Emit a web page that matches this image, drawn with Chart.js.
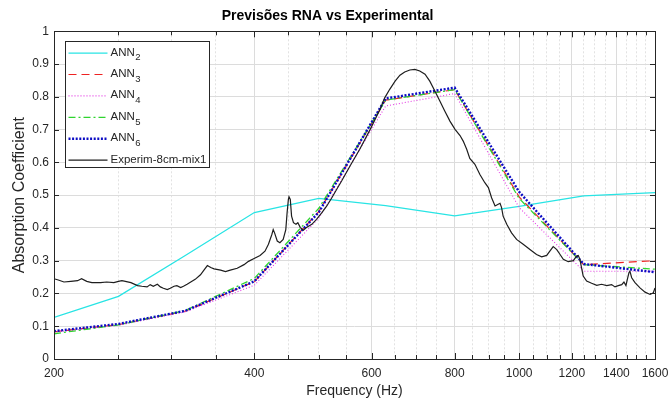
<!DOCTYPE html>
<html><head><meta charset="utf-8">
<script src="https://cdn.jsdelivr.net/npm/chart.js@4/dist/chart.umd.min.js"></script>
<style>html,body{margin:0;padding:0;background:#fff;overflow:hidden}#wrap{width:670px;height:401px}</style>
</head><body><div id="wrap"><canvas id="c" width="670" height="401"></canvas></div>
<script>
// ---- data ----
const bandFreqs = [200, 250, 315, 400, 500, 630, 800, 1000, 1250, 1600];
const ann2 = [0.127, 0.191, 0.316, 0.447, 0.490, 0.468, 0.437, 0.466, 0.498, 0.508];
const ann3 = [0.083, 0.105, 0.146, 0.236, 0.450, 0.790, 0.822, 0.495, 0.288, 0.300];
const ann4 = [0.082, 0.103, 0.144, 0.225, 0.430, 0.772, 0.810, 0.462, 0.268, 0.268];
const ann5 = [0.077, 0.104, 0.148, 0.246, 0.460, 0.790, 0.822, 0.490, 0.288, 0.274];
const ann6 = [0.085, 0.107, 0.147, 0.237, 0.448, 0.795, 0.828, 0.510, 0.290, 0.265];
const expFreqs = [200,203,207,212,217,220,224,228,235,240,246,250,253,256,261,267,271,276,279,282,286,289,292,296,299,303,306,310,313,317,321,326,332,336,340,344,348,356,362,368,377,386,392,399,408,415,420,425,427,429,433,437,442,446,448,450,451,453,455,458,462,465,469,474,479,488,496,505,514,523,532,541,557,576,597,618,628,639,651,662,673,685,697,709,722,734,747,760,773,787,801,815,824,834,843,858,873,888,899,909,920,930,936,941,946,958,974,991,1014,1038,1062,1081,1100,1112,1125,1139,1152,1165,1185,1206,1220,1227,1234,1241,1248,1263,1285,1308,1330,1354,1377,1393,1409,1426,1437,1447,1454,1462,1467,1476,1493,1519,1546,1573,1591,1600];
const expValues = [0.245,0.241,0.235,0.237,0.239,0.245,0.237,0.233,0.233,0.235,0.233,0.237,0.239,0.237,0.233,0.224,0.222,0.220,0.227,0.222,0.228,0.220,0.216,0.212,0.216,0.222,0.224,0.218,0.222,0.228,0.235,0.243,0.257,0.271,0.285,0.279,0.275,0.271,0.267,0.271,0.277,0.288,0.298,0.306,0.316,0.329,0.350,0.380,0.395,0.385,0.360,0.355,0.365,0.395,0.446,0.487,0.495,0.487,0.436,0.416,0.411,0.416,0.401,0.393,0.401,0.411,0.426,0.446,0.467,0.492,0.518,0.543,0.589,0.640,0.700,0.762,0.797,0.823,0.848,0.866,0.876,0.882,0.884,0.879,0.869,0.848,0.818,0.787,0.757,0.726,0.701,0.682,0.665,0.640,0.612,0.594,0.563,0.538,0.523,0.492,0.467,0.472,0.475,0.462,0.436,0.411,0.385,0.365,0.350,0.334,0.319,0.312,0.316,0.329,0.343,0.334,0.319,0.304,0.297,0.300,0.314,0.316,0.304,0.278,0.253,0.238,0.231,0.225,0.228,0.224,0.227,0.220,0.224,0.227,0.235,0.224,0.243,0.263,0.268,0.248,0.233,0.217,0.204,0.197,0.202,0.217];
const xMajorTicks = [200, 400, 600, 800, 1000, 1200, 1400, 1600];
const xMinorTicks = [250, 300, 350, 450, 500, 550, 650, 700, 750, 850, 900, 950, 1050, 1100, 1150, 1250, 1300, 1350, 1450, 1500, 1550];
const yTicks = [0, 0.1, 0.2, 0.3, 0.4, 0.5, 0.6, 0.7, 0.8, 0.9, 1];
const legendBase = ['ANN', 'ANN', 'ANN', 'ANN', 'ANN', 'Experim-8cm-mix1'];
const legendSub = ['2', '3', '4', '5', '6', ''];

// ---- chart ----
const FONT = "'Liberation Sans', Arial, Helvetica, sans-serif";
const allXTicks = xMajorTicks.concat(xMinorTicks).sort((a, b) => a - b);
const pts = (xs, ys) => xs.map((x, i) => ({ x: x, y: ys[i] }));
const isMajor = v => xMajorTicks.indexOf(v) >= 0;

const framePlugin = {
  id: 'frame',
  afterDatasetsDraw(chart) {
    const { ctx, chartArea: a, scales: { x, y } } = chart;
    ctx.save();
    ctx.strokeStyle = '#262626';
    ctx.lineWidth = 1;
    ctx.setLineDash([]);
    ctx.beginPath();
    x.ticks.forEach(t => {
      const px = Math.round(x.getPixelForValue(t.value)) + 0.5;
      const len = isMajor(t.value) ? 6 : 4;
      ctx.moveTo(px, a.bottom); ctx.lineTo(px, a.bottom - len);
      ctx.moveTo(px, a.top); ctx.lineTo(px, a.top + len);
    });
    y.ticks.forEach(t => {
      const py = Math.round(y.getPixelForValue(t.value)) + 0.5;
      ctx.moveTo(a.left, py); ctx.lineTo(a.left + 5, py);
      ctx.moveTo(a.right, py); ctx.lineTo(a.right - 5, py);
    });
    ctx.stroke();
    ctx.strokeRect(Math.round(a.left) + 0.5, Math.round(a.top) + 0.5,
      Math.round(a.right - a.left), Math.round(a.bottom - a.top));
    ctx.restore();
  },
  afterDraw(chart) {
    const { ctx, chartArea: a } = chart;
    const lx = Math.round(a.left + 11) + 0.5, ly = Math.round(a.top + 9.7) + 0.5;
    const lw = 144, lh = 126;
    ctx.save();
    ctx.fillStyle = '#fff';
    ctx.fillRect(lx, ly, lw, lh);
    ctx.strokeStyle = '#262626';
    ctx.lineWidth = 1;
    ctx.setLineDash([]);
    ctx.strokeRect(lx, ly, lw, lh);
    chart.data.datasets.forEach((ds, i) => {
      const cy = ly + 11.6 + i * 21.4;
      ctx.save();
      ctx.strokeStyle = ds.borderColor;
      ctx.lineWidth = ds.borderWidth;
      ctx.setLineDash(ds.borderDash || []);
      ctx.beginPath();
      ctx.moveTo(lx + 3, cy); ctx.lineTo(lx + 42, cy);
      ctx.stroke();
      ctx.restore();
      ctx.fillStyle = '#262626';
      ctx.textBaseline = 'middle';
      ctx.textAlign = 'left';
      ctx.font = '11.5px ' + FONT;
      ctx.fillText(legendBase[i], lx + 45, cy - 0.7);
      if (legendSub[i]) {
        const w = ctx.measureText(legendBase[i]).width;
        ctx.font = '9.5px ' + FONT;
        ctx.fillText(legendSub[i], lx + 45 + w + 0.5, cy + 4.7);
      }
    });
    ctx.restore();
  }
};

new Chart(document.getElementById('c'), {
  type: 'line',
  data: {
    datasets: [
      { label: 'ANN₂', data: pts(bandFreqs, ann2), borderColor: '#28e4e4', borderWidth: 1.3, borderDash: [], order: 6 },
      { label: 'ANN₃', data: pts(bandFreqs, ann3), borderColor: '#ee2222', borderWidth: 1.2, borderDash: [8, 5], order: 5 },
      { label: 'ANN₄', data: pts(bandFreqs, ann4), borderColor: '#e43ce4', borderWidth: 1.1, borderDash: [1, 2], order: 4 },
      { label: 'ANN₅', data: pts(bandFreqs, ann5), borderColor: '#2fd42f', borderWidth: 1.3, borderDash: [7, 3, 2, 3], order: 3 },
      { label: 'ANN₆', data: pts(bandFreqs, ann6), borderColor: '#0c0cc4', borderWidth: 2.4, borderDash: [2, 1.6], order: 2 },
      { label: 'Experim-8cm-mix1', data: pts(expFreqs, expValues), borderColor: '#1e1e1e', borderWidth: 1.2, borderDash: [], order: 1 }
    ]
  },
  options: {
    responsive: false,
    animation: false,
    devicePixelRatio: 1,
    elements: { point: { radius: 0 }, line: { tension: 0, fill: false } },
    layout: { padding: { left: 0, right: 15, top: 0, bottom: 0 } },
    plugins: {
      legend: { display: false },
      tooltip: { enabled: false },
      title: {
        display: true, text: 'Previsões RNA vs Experimental', color: '#000',
        font: { family: FONT, size: 14, weight: 'bold' }, padding: { top: 8, bottom: 6.5 }
      }
    },
    scales: {
      x: {
        type: 'logarithmic', min: 200, max: 1600,
        afterBuildTicks: s => { s.ticks = allXTicks.map(v => ({ value: v })); },
        afterFit: s => { s.height = 42; s.paddingRight = 0; s.paddingLeft = 0; },
        ticks: {
          autoSkip: false, maxRotation: 0, minRotation: 0, padding: 7, color: '#262626',
          font: { family: FONT, size: 12 },
          callback: v => isMajor(v) ? String(v) : ''
        },
        grid: {
          drawTicks: false, lineWidth: 1,
          color: c => (c.tick && isMajor(c.tick.value)) ? '#dcdcdc' : '#e2e2e2'
        },
        border: { display: false, dash: c => (c.tick && isMajor(c.tick.value)) ? [] : [2, 2] },
        title: {
          display: true, text: 'Frequency (Hz)', color: '#262626',
          font: { family: FONT, size: 14 }, padding: { top: 0, bottom: 1 }
        }
      },
      y: {
        type: 'linear', min: 0, max: 1,
        afterBuildTicks: s => { s.ticks = yTicks.map(v => ({ value: v })); },
        afterFit: s => { s.width = 54; s.paddingTop = 0; s.paddingBottom = 0; },
        ticks: {
          padding: 5, color: '#262626', font: { family: FONT, size: 12 },
          callback: v => String(+Number(v).toFixed(1))
        },
        grid: { drawTicks: false, color: '#dcdcdc', lineWidth: 1 },
        border: { display: false },
        title: {
          display: true, text: 'Absorption Coefficient', color: '#262626',
          font: { family: FONT, size: 16 }, padding: { top: 10, bottom: 0 }
        }
      }
    }
  },
  plugins: [framePlugin]
});
</script>
</body></html>
